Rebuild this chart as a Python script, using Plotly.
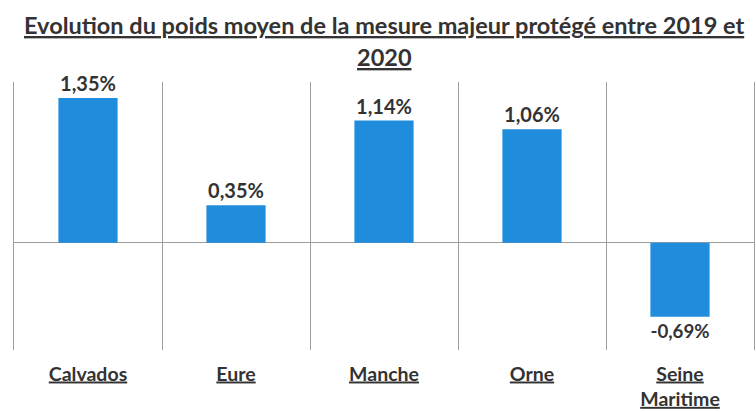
import plotly.graph_objects as go

categories = ["Calvados", "Eure", "Manche", "Orne", "Seine<br>Maritime"]
values = [1.35, 0.35, 1.14, 1.06, -0.69]
labels = ["1,35%", "0,35%", "1,14%", "1,06%", "-0,69%"]
title_lines = ["Evolution du poids moyen de la mesure majeur protégé entre 2019 et", "2020"]

FONT = "Lato, 'Open Sans', sans-serif"
GRID = "#9d9d9d"
TXT = "#333333"


def bold_u(s):
    return "<br>".join(f"<b><u>{part}</u></b>" for part in s.split("<br>"))


fig = go.Figure(go.Bar(
    x=list(range(len(categories))),
    y=values,
    width=0.4,
    marker=dict(color="#1F8CDC", line=dict(width=0)),
    text=labels,
    textposition="outside",
    texttemplate="<b>%{text}</b>",
    textfont=dict(family=FONT, size=20, color=TXT),
    cliponaxis=False,
))

top_m, bot_m = 82, 62
plot_h = 412 - top_m - bot_m
title_px = [25, 57]

fig.update_layout(
    width=756, height=412,
    margin=dict(l=14, r=2, t=top_m, b=bot_m, autoexpand=False),
    paper_bgcolor="white", plot_bgcolor="white",
    showlegend=False,
    annotations=[dict(
        text=bold_u(line),
        xref="paper", yref="paper", x=0.5, xanchor="center",
        y=1 + (top_m - py) / plot_h, yanchor="middle",
        showarrow=False, align="center",
        font=dict(family=FONT, size=23.5, color=TXT),
    ) for line, py in zip(title_lines, title_px)],
)

fig.update_xaxes(
    tickmode="array",
    tickvals=list(range(len(categories))),
    ticktext=[bold_u(c) for c in categories],
    tickfont=dict(family=FONT, size=19.5, color=TXT),
    range=[-0.5, 4.5],
    showgrid=False,
    ticks="",
    ticklabelstandoff=10,
    showline=False, zeroline=False,
    automargin=False,
    minor=dict(tickmode="array", tickvals=[0.5, 1.5, 2.5, 3.5],
               showgrid=True, gridcolor=GRID, gridwidth=1),
)

fig.update_yaxes(
    range=[-1.0, 1.50],
    showgrid=False, showticklabels=False, ticks="",
    zeroline=True, zerolinecolor=GRID, zerolinewidth=1,
    showline=True, mirror=True, linecolor=GRID, linewidth=1,
    automargin=False,
)

fig.write_html(
    "out.html",
    config={"displayModeBar": False},
    post_script="document.body.style.margin='0';document.body.style.overflow='hidden';",
)
